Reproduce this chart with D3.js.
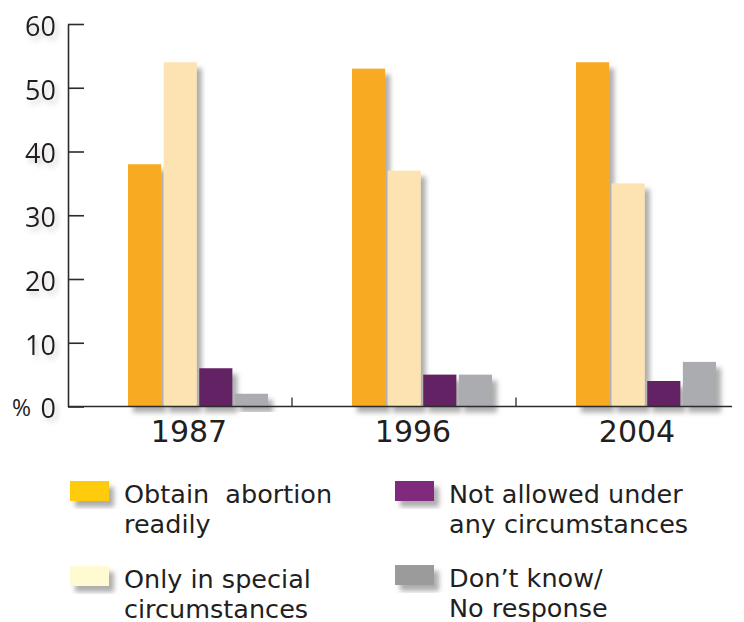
<!DOCTYPE html>
<html>
<head>
<meta charset="utf-8">
<script src="https://cdn.jsdelivr.net/npm/d3@7"></script>
<style>
  body { margin: 0; background: #fff; }
  svg { display: block; }
</style>
</head>
<body>
<svg id="chart" width="744" height="622"></svg>
<script>
// data
var years = ["1987", "1996", "2004"],
  answers = ["Obtain abortion readily", "Only in special circumstances",
    "Not allowed under any circumstances", "Don\u2019t know/ No response"],
  obtainReadily = [38, 53, 54],
  onlySpecial = [54, 37, 35],
  notAllowed = [6, 5, 4],
  dontKnow = [2, 5, 7],
  yTicks = [0, 10, 20, 30, 40, 50, 60];

var legendLines = [
  ["Obtain\u00a0 abortion", "readily"],
  ["Only in special", "circumstances"],
  ["Not allowed under", "any circumstances"],
  ["Don\u2019t know/", "No response"]
];

var barColors = ["#f7aa24", "#fde3b1", "#632063", "#abacb0"],
  swatchColors = ["#ffcb08", "#fffad2", "#7f2a7d", "#9b9b9b"],
  ink = "#231f20";

var series = [obtainReadily, onlySpecial, notAllowed, dontKnow];
var rows = years.map(function (yr, i) {
  return { year: yr, values: answers.map(function (a, k) { return { key: k, value: series[k][i] }; }) };
});

var svg = d3.select("#chart");

var defs = svg.append("defs");
defs.append("filter").attr("id", "barShadow")
    .attr("x", "-20%").attr("y", "-20%").attr("width", "160%").attr("height", "160%")
  .append("feDropShadow")
    .attr("dx", 5).attr("dy", 6).attr("stdDeviation", 2.5)
    .attr("flood-color", "#777").attr("flood-opacity", 0.6);
defs.append("filter").attr("id", "textShadow")
    .attr("x", "-30%").attr("y", "-30%").attr("width", "180%").attr("height", "180%")
  .append("feDropShadow")
    .attr("dx", 3).attr("dy", 4).attr("stdDeviation", 2.5)
    .attr("flood-color", "#999").attr("flood-opacity", 0.45);

var x0 = 68, x1End = 740, y0 = 406.5, yTop = 24;

var x = d3.scaleBand().domain(years).range([x0, x1End]).padding(0);
var xs = d3.scaleBand().domain(d3.range(answers.length)).range([60, 200]).paddingInner(0.07);
var y = d3.scaleLinear().domain([0, 60]).range([y0, yTop]);

// bars
var groups = svg.append("g").selectAll("g")
  .data(rows).join("g")
    .attr("transform", function (d) { return "translate(" + x(d.year) + ",0)"; });

groups.selectAll("rect")
  .data(function (d) { return d.values; })
  .join("rect")
    .attr("x", function (d) { return xs(d.key); })
    .attr("y", function (d) { return y(d.value); })
    .attr("width", xs.bandwidth())
    .attr("height", function (d) { return y(0) - y(d.value); })
    .attr("fill", function (d) { return barColors[d.key]; })
    .attr("filter", "url(#barShadow)");

// y axis, ticks pointing inward
var yAxis = svg.append("g")
    .attr("transform", "translate(" + x0 + ",0)")
    .call(d3.axisLeft(y).tickValues(yTicks).tickSize(-16).tickSizeOuter(0).tickPadding(12));
yAxis.select(".domain").attr("stroke", "#2b2b2b").attr("stroke-width", 1.6);
yAxis.selectAll(".tick line").attr("stroke", "#2b2b2b").attr("stroke-width", 1.6);
yAxis.selectAll(".tick text")
    .attr("font-family", "'Open Sans', sans-serif")
    .attr("font-size", 27)
    .attr("fill", ink)
    .attr("dy", "0.42em")
    .attr("filter", "url(#textShadow)");

svg.append("text")
    .attr("x", 12).attr("y", 416)
    .attr("font-family", "'Open Sans', sans-serif")
    .attr("font-size", 23)
    .attr("fill", ink)
    .text("%");

// x axis
svg.append("line")
    .attr("x1", x0).attr("x2", 732)
    .attr("y1", y0).attr("y2", y0)
    .attr("stroke", "#2b2b2b").attr("stroke-width", 1.6);

svg.append("g").selectAll("line")
  .data(years.slice(1)).join("line")
    .attr("x1", function (d) { return x(d); })
    .attr("x2", function (d) { return x(d); })
    .attr("y1", y0).attr("y2", y0 - 9)
    .attr("stroke", "#2b2b2b").attr("stroke-width", 1.3);

svg.append("g").selectAll("text")
  .data(years).join("text")
    .attr("x", function (d) { return x(d) + 121; })
    .attr("y", 442)
    .attr("text-anchor", "middle")
    .attr("font-family", "'DejaVu Sans', Verdana, sans-serif")
    .attr("font-size", 30)
    .attr("fill", ink)
    .text(function (d) { return d; });

// legend
var legendPos = [[70, 481], [70, 566], [395, 481], [395, 565]];

var legend = svg.append("g").selectAll("g")
  .data(answers).join("g")
    .attr("transform", function (d, i) { return "translate(" + legendPos[i][0] + "," + legendPos[i][1] + ")"; });

legend.append("rect")
    .attr("width", 39).attr("height", 20)
    .attr("fill", function (d, i) { return swatchColors[i]; })
    .attr("filter", "url(#barShadow)");

legend.append("text")
    .attr("x", 54).attr("y", 22)
    .attr("font-family", "'DejaVu Sans', Verdana, sans-serif")
    .attr("font-size", 25.5)
    .attr("fill", ink)
  .selectAll("tspan")
  .data(function (d, i) { return legendLines[i]; })
  .join("tspan")
    .attr("x", 54)
    .attr("dy", function (d, j) { return j ? 29.5 : 0; })
    .text(function (d) { return d; });
</script>
</body>
</html>
